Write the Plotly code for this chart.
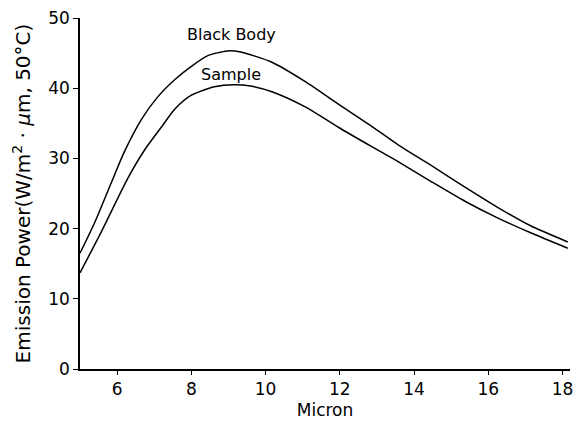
import plotly.graph_objects as go

# Data
bb_x = [5.0, 5.39, 5.84, 6.2, 6.66, 7.1, 7.55, 8.0, 8.43, 8.97, 9.29, 10.17, 11.08, 11.97, 12.85, 13.58, 14.46, 15.37, 16.26, 17.14, 18.14]
bb_y = [16.5, 20.8, 26.5, 31.0, 35.6, 38.8, 41.2, 43.1, 44.6, 45.3, 45.2, 43.7, 40.9, 37.7, 34.6, 31.9, 29.0, 25.9, 23.0, 20.4, 18.1]

sa_x = [5.0, 5.57, 6.29, 6.74, 7.2, 7.55, 8.0, 8.62, 9.16, 9.6, 10.17, 11.08, 11.97, 12.85, 13.58, 14.46, 15.37, 16.26, 17.14, 18.14]
sa_y = [13.7, 19.5, 27.2, 31.2, 34.5, 37.0, 39.0, 40.2, 40.5, 40.3, 39.5, 37.3, 34.4, 31.7, 29.5, 26.7, 23.9, 21.5, 19.4, 17.2]

x_ticks = [6, 8, 10, 12, 14, 16, 18]
y_ticks = [0, 10, 20, 30, 40, 50]

FONT = "DejaVu Sans"

fig = go.Figure()
fig.add_trace(go.Scatter(x=bb_x, y=bb_y, mode="lines", line=dict(color="black", width=1.5, shape="spline", smoothing=0.7), name="Black Body"))
fig.add_trace(go.Scatter(x=sa_x, y=sa_y, mode="lines", line=dict(color="black", width=1.5, shape="spline", smoothing=0.7), name="Sample"))

fig.add_annotation(x=9.07, y=47.6, text="Black Body", showarrow=False, font=dict(size=16, color="black", family=FONT))
fig.add_annotation(x=9.07, y=42.0, text="Sample", showarrow=False, font=dict(size=16, color="black", family=FONT))

fig.update_layout(
    width=576, height=424,
    margin=dict(l=80, r=6, t=18, b=55),
    paper_bgcolor="white", plot_bgcolor="white",
    showlegend=False,
    font=dict(family=FONT, size=17, color="black"),
    xaxis=dict(
        range=[5, 18.2], tickvals=x_ticks, showgrid=False, zeroline=False,
        showline=True, linecolor="black", linewidth=1.5,
        ticks="outside", ticklen=4, tickcolor="black", automargin=False,
        title=dict(text="Micron", font=dict(size=17), standoff=6),
    ),
    yaxis=dict(
        range=[0, 50], tickvals=y_ticks, showgrid=False, zeroline=False,
        showline=True, linecolor="black", linewidth=1.5,
        ticks="outside", ticklen=5, tickcolor="black", automargin=False,
        title=dict(text="Emission Power(W/m<sup>2</sup> · <i>μ</i>m, 50°C)", font=dict(size=20), standoff=12),
    ),
)

fig.write_html("out.html", config={"displayModeBar": False},
               post_script="document.body.style.margin='0';")
